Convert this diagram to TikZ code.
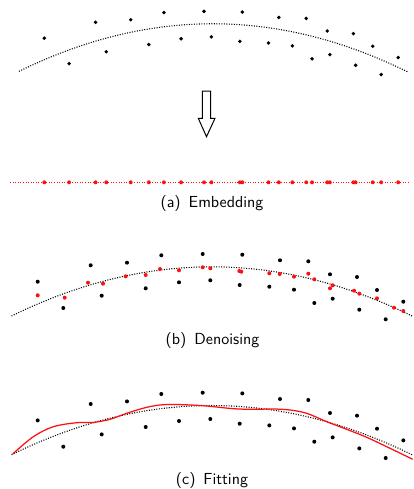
\documentclass[tikz,border=0pt]{standalone}
\usetikzlibrary{calc}
\definecolor{cred}{HTML}{FF1010}
\tikzset{
  every picture/.style={font=\sffamily},
  blackdot/.style={fill=black},
  reddot/.style={fill=cred},
  trend/.style={draw=black, line width=0.65pt, dash pattern=on 0.6pt off 0.9pt},
  embline/.style={draw=cred, line width=0.65pt, dash pattern=on 0.6pt off 0.95pt},
  fitline/.style={draw=cred, line width=0.75pt},
  arrowbox/.style={draw=black, line width=0.6pt, line join=miter},
  caption/.style={font=\sffamily\fontsize{9.6}{11}\selectfont, inner sep=1pt},
}
% noisy samples, panel (b) frame
\newcommand{\noisypts}{37.7/41.7, 63.3/68, 90.7/25.3, 101.7/55.7, 127/22.7, 145.7/48.3,
  161.3/15.3, 179/42.3, 202.7/14, 210.3/40.3, 242.3/14.7, 239.7/45, 280/20.3, 269.3/46.7,
  308.3/21.3, 294/49.7, 330/34.3, 314.3/63, 332.7/58.7, 357/37, 359.3/69.7, 377/50,
  385.7/79.3, 403.3/61.7}
% denoised samples
\newcommand{\cleanpts}{37.7/55.3, 64.7/57.7, 88/42.7, 103/43.7, 125.7/36.3, 145.7/35,
  160/29, 179/30.3, 202.7/27.3, 210.3/28.3, 239.3/31, 241.3/31.7, 269.3/33.3, 279.7/34,
  294/36.7, 308.3/33.7, 314.3/39.3, 332.7/45.3, 330/48.3, 354/50.7, 359.3/53.7, 377/58.3,
  394/67.7, 403.3/71}
\newcommand{\trendcurve}{\draw[trend] (11.5,76) .. controls (145.2,10.3) and (279,10.4) .. (413,76.5);}

\begin{document}
\begin{tikzpicture}[x=0.6pt, y=-0.6pt]
  \useasboundingbox (0,0) rectangle (413,489);
  % (a) raw data
  \begin{scope}[shift={(7.8,-2.2)}, scale=0.968]
    \trendcurve
    \foreach \px/\py in \noisypts {\fill[blackdot] (\px,\py) circle[radius=1.2pt];}
  \end{scope}
  \draw[arrowbox] (202.3,91) -- (210.7,91) -- (210.7,118.3) -- (215,118.3) -- (206.5,136.7)
    -- (198.3,118.3) -- (202.3,118.3) -- cycle;
  \begin{scope}[shift={(7.8,0)}, xscale=0.968]
    \draw[embline] (2.3,182.3) -- (415.5,182.3);
    \foreach \px/\py in \noisypts {\fill[reddot] (\px,182.3) circle[radius=1.2pt];}
  \end{scope}
  \node[caption] (capa) at (212,203) {(a)\enspace Embedding};
  % (b) denoising
  \begin{scope}[shift={(0,240)}]
    \trendcurve
    \foreach \px/\py in \noisypts {\fill[blackdot] (\px,\py) circle[radius=1.2pt];}
    \foreach \px/\py in \cleanpts {\fill[reddot] (\px,\py) circle[radius=1.2pt];}
  \end{scope}
  \node[caption] (capb) at (212.5,340) {(b)\enspace Denoising};
  % (c) fitting
  \begin{scope}[shift={(0,378.7)}]
    \trendcurve
    \foreach \px/\py in \noisypts {\fill[blackdot] (\px,\py) circle[radius=1.2pt];}
    \draw[fitline] plot[smooth, tension=0.55] coordinates {(12.7,75.3) (33.3,58) (53.3,48)
      (76.7,44) (93.3,43.7) (110,40.6) (126.7,34.6) (146.7,28.6) (163.3,26) (183.3,26)
      (206.7,27.3) (233.3,30) (253.3,30.6) (273.3,30.3) (290,31.3) (306.7,34.6) (326.7,43)
      (346.7,50.6) (366.7,58.6) (386.7,68) (412.7,80.6)};
  \end{scope}
  \node[caption] (capc) at (212,480) {(c)\enspace Fitting};
\end{tikzpicture}
\end{document}
